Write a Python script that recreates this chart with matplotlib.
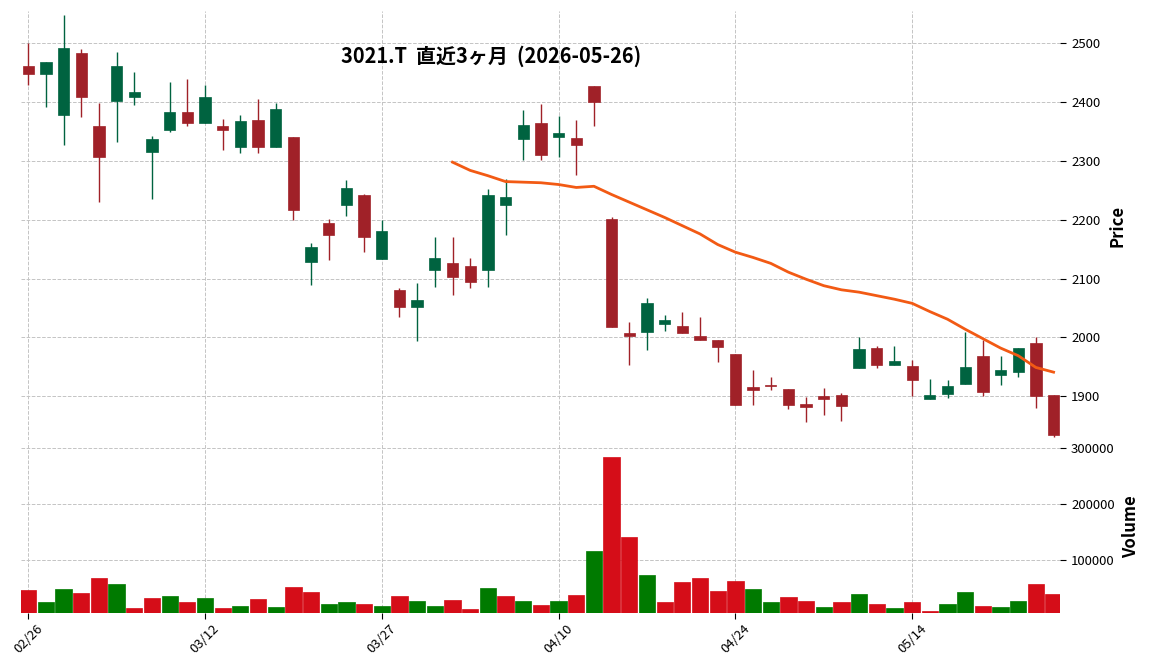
import matplotlib
matplotlib.use("Agg")
import matplotlib.pyplot as plt
import numpy as np

plt.rcParams['font.family'] = ['Noto Sans CJK JP', 'DejaVu Sans']

# trading days shown (MM/DD)
dates = ['02/26', '02/27', '03/02', '03/03', '03/04', '03/05', '03/06', '03/09', '03/10', '03/11',
         '03/12', '03/13', '03/16', '03/17', '03/18', '03/19', '03/23', '03/24', '03/25', '03/26',
         '03/27', '03/30', '03/31', '04/01', '04/02', '04/03', '04/06', '04/07', '04/08', '04/09',
         '04/10', '04/13', '04/14', '04/15', '04/16', '04/17', '04/20', '04/21', '04/22', '04/23',
         '04/24', '04/27', '04/28', '04/30', '05/01', '05/07', '05/08', '05/11', '05/12', '05/13',
         '05/14', '05/15', '05/18', '05/19', '05/20', '05/21', '05/22', '05/25', '05/26']

opens = [2461, 2448, 2379, 2484, 2360, 2402, 2409, 2316, 2353, 2383,
         2365, 2360, 2324, 2370, 2323, 2340, 2129, 2195, 2226, 2242,
         2134, 2081, 2052, 2114, 2127, 2121, 2114, 2226, 2338, 2364,
         2340, 2339, 2427, 2201, 2008, 2010, 2023, 2020, 2002, 1996,
         1972, 1916, 1920, 1912, 1887, 1901, 1902, 1948, 1982, 1954,
         1952, 1896, 1904, 1921, 1969, 1937, 1942, 1991, 1903]
highs = [2500, 2468, 2549, 2491, 2399, 2486, 2452, 2342, 2435, 2440,
         2430, 2371, 2379, 2405, 2398, 2340, 2160, 2201, 2267, 2244,
         2199, 2084, 2092, 2170, 2170, 2135, 2252, 2270, 2386, 2397,
         2377, 2369, 2427, 2205, 2027, 2067, 2039, 2043, 2034, 1996,
         1972, 1944, 1932, 1912, 1898, 1914, 1906, 2000, 1985, 1986,
         1962, 1929, 1928, 2009, 1996, 1968, 1982, 2000, 1903]
lows = [2429, 2391, 2327, 2374, 2230, 2332, 2395, 2236, 2350, 2360,
        2365, 2318, 2313, 2313, 2323, 2199, 2090, 2131, 2206, 2145,
        2134, 2034, 1994, 2085, 2073, 2084, 2085, 2175, 2301, 2301,
        2306, 2276, 2359, 2017, 1953, 1979, 2011, 2007, 1995, 1958,
        1886, 1886, 1910, 1878, 1856, 1868, 1858, 1948, 1948, 1954,
        1900, 1896, 1897, 1921, 1900, 1920, 1933, 1880, 1830]
closes = [2448, 2468, 2492, 2408, 2307, 2461, 2417, 2337, 2383, 2365,
          2409, 2353, 2368, 2323, 2388, 2216, 2154, 2175, 2254, 2170,
          2181, 2052, 2064, 2135, 2102, 2095, 2242, 2239, 2361, 2311,
          2348, 2328, 2401, 2017, 2003, 2059, 2029, 2008, 1995, 1984,
          1886, 1910, 1918, 1886, 1881, 1895, 1884, 1980, 1954, 1960,
          1927, 1902, 1918, 1950, 1908, 1944, 1982, 1901, 1834]

volumes = [47000, 25600, 48800, 41700, 68500, 57700, 14900, 32700, 36300, 25600,
           32700, 14900, 18500, 31000, 16700, 52400, 43500, 22000, 25600, 22000,
           18500, 36300, 27400, 18500, 29200, 13100, 50600, 36300, 27400, 20200,
           27400, 38100, 116700, 285100, 141700, 73800, 25600, 61300, 68500, 45200,
           63100, 48800, 25600, 34500, 27400, 16700, 25600, 39900, 22000, 14900,
           25600, 9500, 22000, 43500, 18500, 16700, 27400, 57700, 39900]
vol_dir = ['d', 'u', 'u', 'd', 'd', 'u', 'd', 'd', 'u', 'd',
           'u', 'd', 'u', 'd', 'u', 'd', 'd', 'u', 'u', 'd',
           'u', 'd', 'u', 'u', 'd', 'd', 'u', 'd', 'u', 'd',
           'u', 'd', 'u', 'd', 'd', 'u', 'd', 'd', 'd', 'd',
           'd', 'u', 'u', 'd', 'd', 'u', 'd', 'u', 'd', 'u',
           'd', 'd', 'u', 'u', 'd', 'u', 'u', 'd', 'd']

# 25-day moving average (starts at the 25th bar)
ma25 = [2298, 2284, 2275, 2265, 2264, 2263, 2260, 2255, 2257, 2243,
        2230, 2217, 2204, 2190, 2176, 2158, 2145, 2136, 2126, 2111,
        2099, 2088, 2081, 2077, 2071, 2065, 2058, 2044, 2031, 2014,
        1998, 1982, 1969, 1949, 1941]

title = "3021.T  直近3ヶ月  (2026-05-26)"

up_c, down_c = '#006340', '#A02128'
vup_c, vdown_c = '#007a00', '#d50d18'

x = np.arange(len(dates))
o = np.array(opens)
c = np.array(closes)
ccol = [up_c if cc >= oo else down_c for oo, cc in zip(o, c)]

fig = plt.figure(figsize=(11.52, 6.7), dpi=100)
ax = fig.add_axes([0.0182, 0.3433, 0.9019, 0.6403])
axv = fig.add_axes([0.0182, 0.0855, 0.9019, 0.2555], sharex=ax)

for a in (ax, axv):
    for s in a.spines.values():
        s.set_visible(False)
    a.grid(True, linestyle='--', color='#c4c4c4', linewidth=0.7)
    a.set_axisbelow(True)
    a.yaxis.tick_right()
    a.yaxis.set_label_position('right')
    a.tick_params(axis='y', length=4, width=0.8, labelsize=9.5, pad=4)

# candles
ax.vlines(x, lows, highs, colors=ccol, linewidth=1.0, zorder=2)
ax.bar(x, np.maximum(np.abs(c - o), 0.8), bottom=np.minimum(o, c), width=0.64,
       color=ccol, edgecolor=ccol, linewidth=0.5, zorder=3)
ma_x = x[len(x) - len(ma25):]
ax.plot(ma_x, ma25, color='#F25A14', linewidth=2.0, zorder=4)

ax.set_ylim(1825.7, 2555)
ax.set_yticks([1900, 2000, 2100, 2200, 2300, 2400, 2500])
ax.set_xlim(-0.41, 58.36)
ax.tick_params(axis='x', which='both', length=0, labelbottom=False)
ax.set_ylabel('Price', fontsize=12, fontweight='bold')
ax.yaxis.set_label_coords(1.047, 0.5)

# volume
vcol = [vup_c if d == 'u' else vdown_c for d in vol_dir]
axv.bar(x, volumes, width=0.92, color=vcol, edgecolor=vcol, linewidth=0.5, zorder=3)
axv.set_ylim(6400, 312000)
axv.set_yticks([100000, 200000, 300000])
axv.set_ylabel('Volume', fontsize=12, fontweight='bold')
axv.yaxis.set_label_coords(1.060, 0.5)

ticks = x[::10]
axv.set_xticks(ticks)
axv.set_xticklabels([dates[i] for i in ticks], rotation=45, fontsize=9.5)
axv.tick_params(axis='x', length=4, width=0.8, pad=3)

fig.text(491 / 1152, 1 - 56 / 670, title, ha='center', va='center',
         fontsize=14.4, fontweight='bold')

fig.savefig('out.png', dpi=100)
